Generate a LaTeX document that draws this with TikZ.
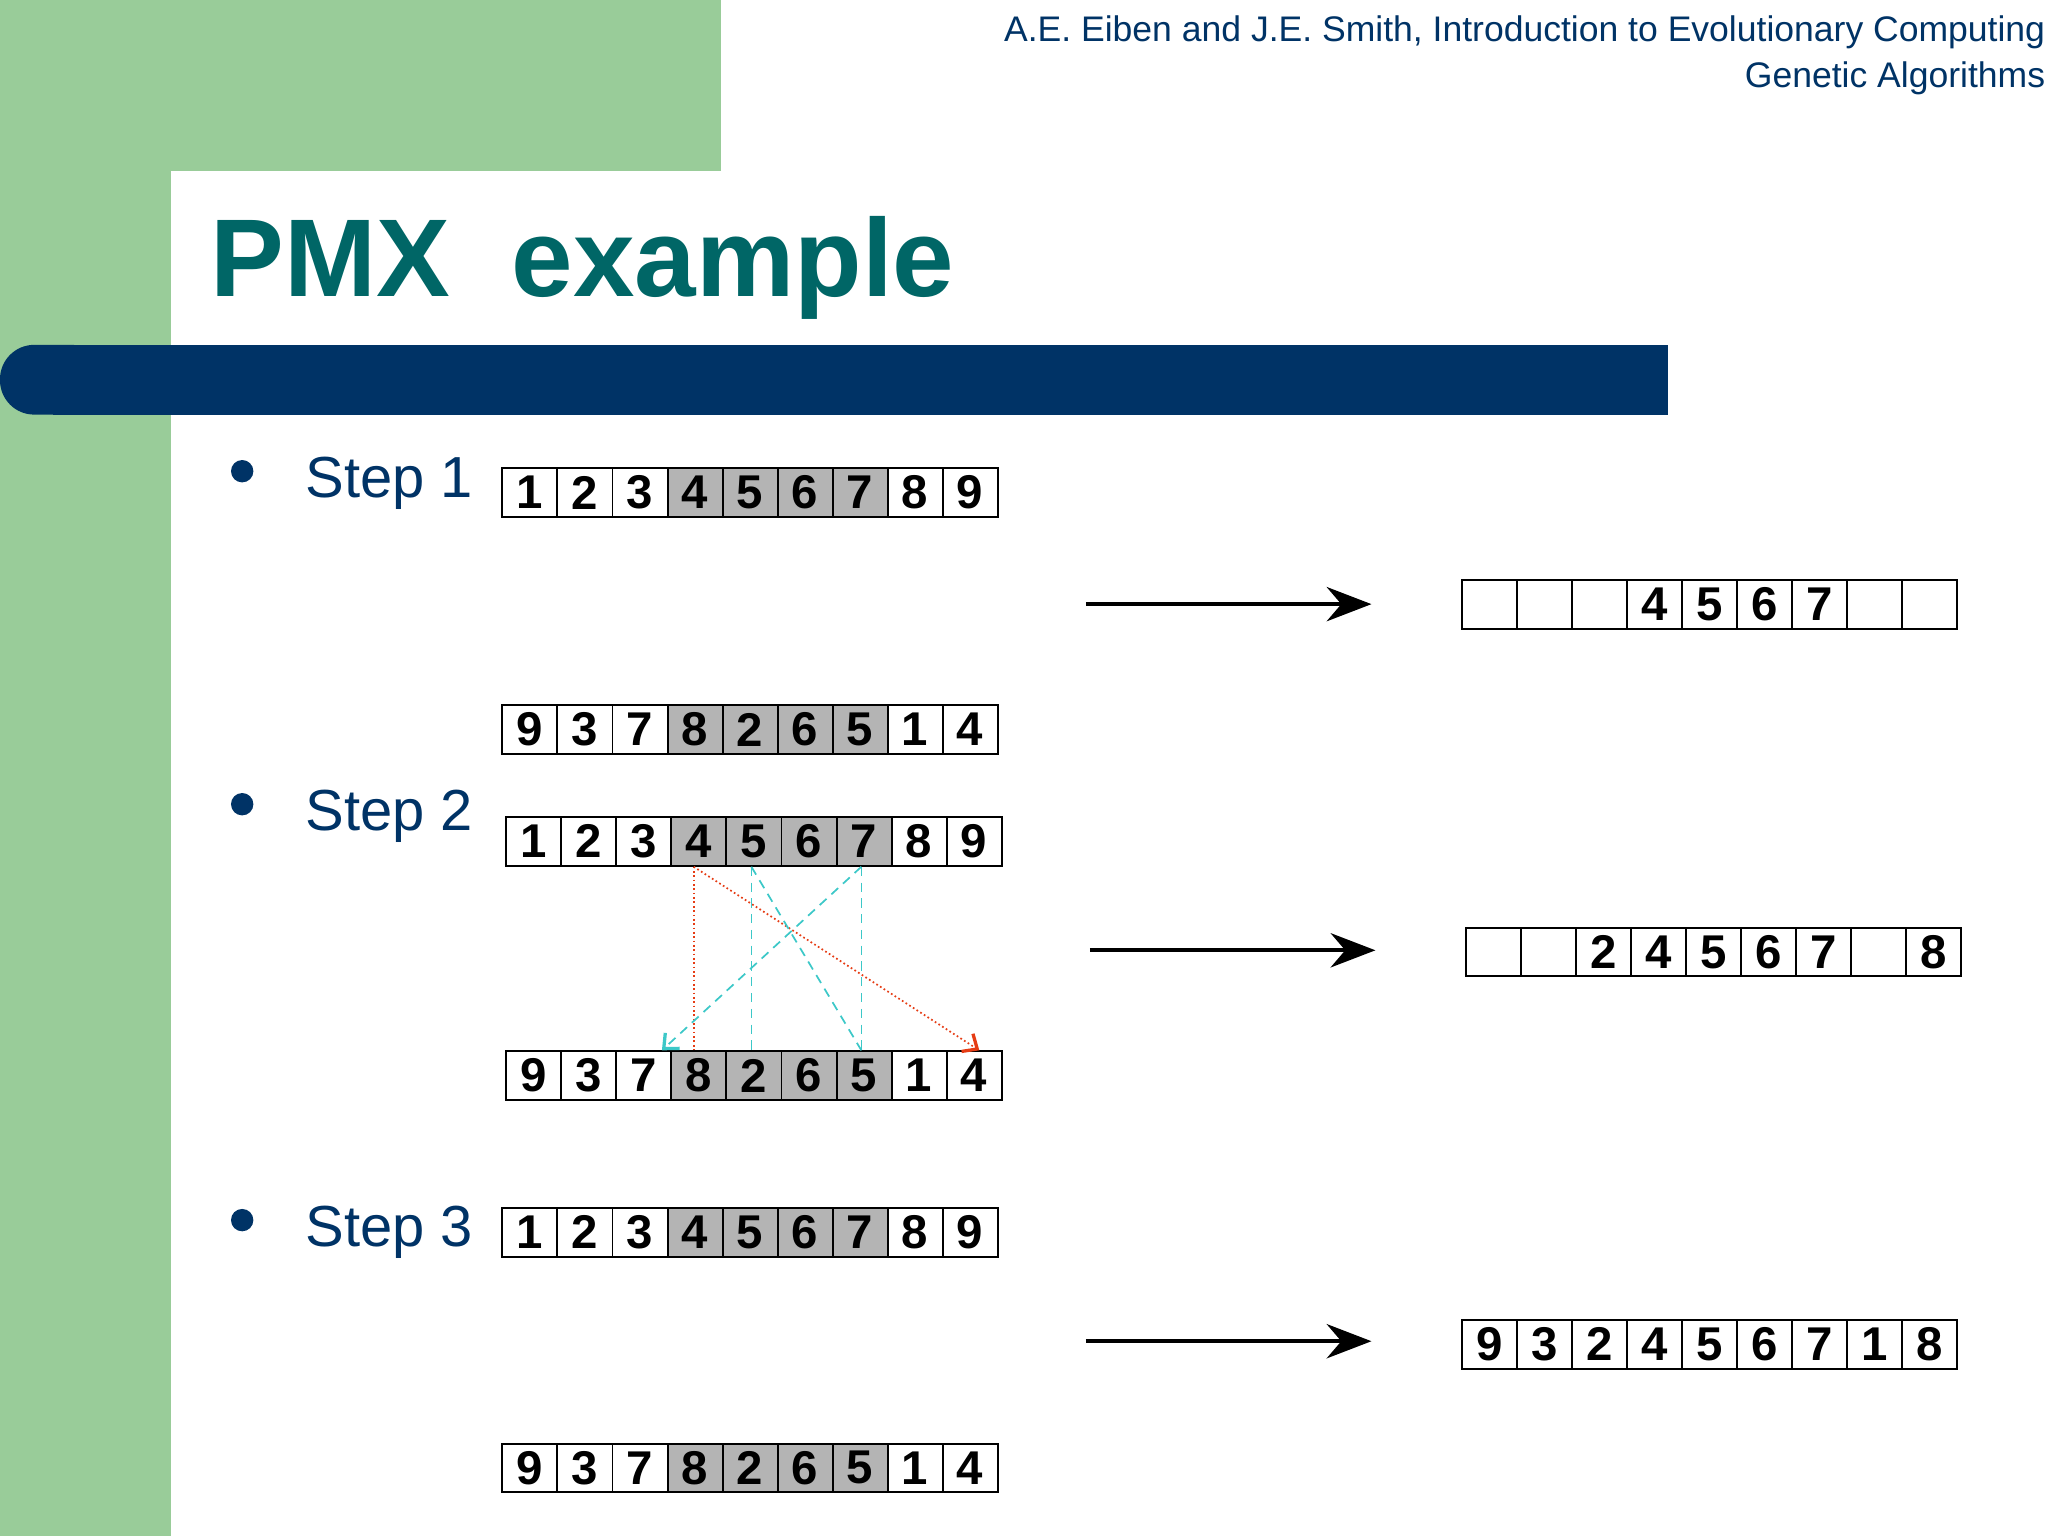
\documentclass[tikz,border=0pt]{standalone}
\usepackage{fontspec}
\setmainfont{Liberation Sans}
\usetikzlibrary{arrows.meta}
\definecolor{grn}{RGB}{153,204,153}
\definecolor{bar}{RGB}{0,51,102}
\definecolor{ttl}{RGB}{0,102,102}
\definecolor{txt}{RGB}{0,51,102}
\definecolor{cell}{RGB}{180,180,180}
\definecolor{red}{RGB}{230,60,20}
\definecolor{cyan}{RGB}{60,200,200}
\tikzset{
  cellbox/.style={draw,line width=1.5pt,minimum width=41.8pt,minimum height=37pt,inner sep=0pt,anchor=north west,
    font=\fontsize{36}{36}\selectfont\bfseries},
  bigarrow/.style={line width=3pt,-{Stealth[length=34pt,width=26pt]}},
  steplbl/.style={anchor=base west,text=txt,font=\fontsize{44}{44}\selectfont,inner sep=0pt},
  bul/.style={circle,fill=txt,minimum size=17pt,inner sep=0pt},
  redl/.style={red,line width=1.3pt,dotted},
  cyanl/.style={cyan,line width=1.3pt,dash pattern=on 7pt off 5pt},
}
\newcommand{\cellrow}[5]{% name, x, y, list, shade?
  \foreach \v [count=\i] in {#4} {
    \ifnum#5=1
      \ifnum\i>3 \ifnum\i<8
        \node[cellbox,fill=cell] (#1-\i) at ({#2+(\i-1)*41.8},{-#3}) {\v};
      \else
        \node[cellbox] (#1-\i) at ({#2+(\i-1)*41.8},{-#3}) {\v};
      \fi\else
        \node[cellbox] (#1-\i) at ({#2+(\i-1)*41.8},{-#3}) {\v};
      \fi
    \else
      \node[cellbox] (#1-\i) at ({#2+(\i-1)*41.8},{-#3}) {\v};
    \fi
  }}
\begin{document}
\begin{tikzpicture}[x=1pt,y=1pt]
\useasboundingbox (0,0) rectangle (1556,-1167);
\fill[white] (0,0) rectangle (1556,-1167);
\fill[grn] (0,0) rectangle (548,-130);
\fill[grn] (0,0) rectangle (130,-1167);
\fill[white,rounded corners=60pt] (130,-1167) -- (130,-130) -- (700,-130) -- (700,-1167) -- cycle;
\fill[bar,rounded corners=26pt] (0,-262) rectangle (80,-315);
\fill[bar] (40,-262) rectangle (1267,-315);
\node[anchor=base west,text=ttl,font=\fontsize{84}{84}\selectfont\bfseries,inner sep=0pt] (title) at (160,-225) {PMX\ \ example};
\node[anchor=north east,align=right,text=txt,font=\fontsize{27}{35}\selectfont,inner sep=0pt] (hdr) at (1554,-12)
  {A.E. Eiben and J.E. Smith, Introduction to Evolutionary Computing\\Genetic Algorithms};
% bullets and labels
\node[bul] (b1) at (184,-358) {}; \node[steplbl] (s1) at (232,-378) {Step 1};
\node[bul] (b2) at (184,-611) {}; \node[steplbl] (s2) at (232,-631) {Step 2};
\node[bul] (b3) at (184,-927) {}; \node[steplbl] (s3) at (232,-947) {Step 3};
% step 1
\cellrow{ta}{381}{355}{1,2,3,4,5,6,7,8,9}{1}
\cellrow{ba}{381}{535}{9,3,7,8,2,6,5,1,4}{1}
\cellrow{ra}{1110}{440}{{},{},{},4,5,6,7,{},{}}{0}
% step 2
\cellrow{tb}{384}{620}{1,2,3,4,5,6,7,8,9}{1}
\cellrow{bb}{384}{798}{9,3,7,8,2,6,5,1,4}{1}
\cellrow{rb}{1113}{704}{{},{},2,4,5,6,7,{},8}{0}
% step 3
\cellrow{tc}{381}{917}{1,2,3,4,5,6,7,8,9}{1}
\cellrow{bc}{381}{1096}{9,3,7,8,2,6,5,1,4}{1}
\cellrow{rc}{1110}{1002}{9,3,2,4,5,6,7,1,8}{0}
% big arrows
\coordinate (a1s) at (825,-459); \coordinate (a1e) at (1042,-459);
\coordinate (a2s) at (828,-722); \coordinate (a2e) at (1045,-722);
\coordinate (a3s) at (825,-1019); \coordinate (a3e) at (1042,-1019);
\draw[bigarrow] (a1s) -- (a1e);
\draw[bigarrow] (a2s) -- (a2e);
\draw[bigarrow] (a3s) -- (a3e);
% mapping lines
\coordinate (t4) at ([xshift=-4pt]tb-4.south);
\draw[redl] (t4) -- ([xshift=-4pt]bb-4.north);
\draw[redl,-{Straight Barb[length=9pt,width=16pt,line width=2.5pt,sep=0pt]}] (t4) -- ([xshift=4pt]bb-9.north);
\draw[cyanl] ([xshift=-2pt]tb-5.south) -- ([xshift=-2pt]bb-5.north);
\draw[cyanl] ([xshift=-2pt]tb-5.south) -- ([xshift=-2pt]bb-7.north);
\draw[cyanl] ([xshift=-2pt]tb-7.south) -- ([xshift=-2pt]bb-7.north);
\draw[cyanl,-{Straight Barb[length=9pt,width=16pt,line width=2.5pt,sep=0pt]}] ([xshift=-2pt]tb-7.south) -- ([xshift=-8pt]bb-3.north east);
\end{tikzpicture}
\end{document}
